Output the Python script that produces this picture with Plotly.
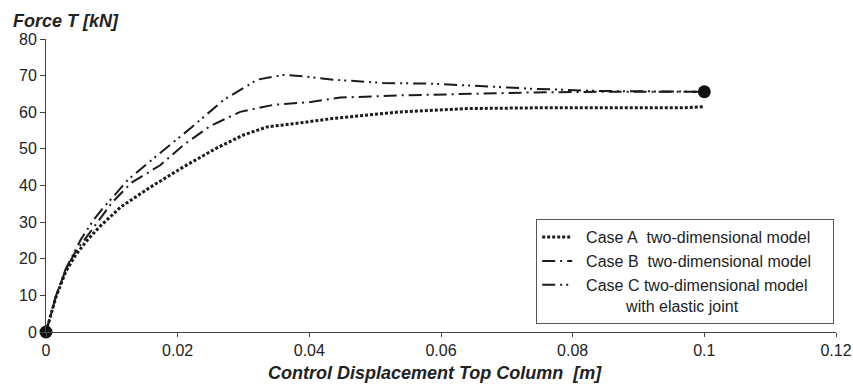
import plotly.graph_objects as go

# Case A (dotted)
a_x = [0, 0.0015, 0.003, 0.0045, 0.006, 0.008, 0.0114, 0.0159, 0.0209, 0.026, 0.030, 0.0336,
       0.0386, 0.0436, 0.0538, 0.0639, 0.074, 0.085, 0.0967, 0.1]
a_y = [0, 9.5, 16.5, 21, 24.5, 28.5, 34.2, 39.6, 45.1, 50.3, 53.8, 56.0,
       57.1, 58.3, 60.1, 61.0, 61.2, 61.2, 61.2, 61.5]

# Case B (long dash - dot)
b_x = [0, 0.0015, 0.003, 0.0045, 0.0064, 0.0083, 0.010, 0.013, 0.0174, 0.0209, 0.025, 0.0295,
       0.0345, 0.0402, 0.0447, 0.0538, 0.0639, 0.074, 0.085, 0.094, 0.1]
b_y = [0, 9.7, 17.0, 22.0, 26.5, 31.0, 35.3, 40.8, 45.6, 51.1, 56.3, 60.1,
       62.0, 62.8, 64.0, 64.6, 65.1, 65.4, 65.6, 65.7, 65.6]

# Case C (long dash - dot - dot)
c_x = [0, 0.0015, 0.003, 0.0043, 0.0053, 0.0073, 0.0085, 0.0105, 0.0124, 0.017, 0.022, 0.027,
       0.0321, 0.0361, 0.0397, 0.0436, 0.0512, 0.0588, 0.0664, 0.074, 0.084, 0.0967, 0.1]
c_y = [0, 9.8, 17.2, 22.0, 25.3, 30.8, 33.5, 37.5, 41.5, 48.4, 55.7, 63.4,
       68.9, 70.2, 69.7, 68.9, 68.0, 67.8, 67.0, 66.4, 65.8, 65.6, 65.6]

# End-point dots
dot_x = [0, 0.1]
dot_y = [0, 65.6]

x_ticks = [0, 0.02, 0.04, 0.06, 0.08, 0.1, 0.12]
y_ticks = [0, 10, 20, 30, 40, 50, 60, 70, 80]

nb = "\u00a0"
names = [
    nb * 2 + "Case A" + nb + nb + "two-dimensional model" + nb * 4,
    nb * 2 + "Case B" + nb + nb + "two-dimensional model",
    nb * 2 + "Case C two-dimensional model<br>" + nb * 11 + "with elastic joint",
]

ink = "#1b1b1b"
fam = "Liberation Sans, Arial, sans-serif"
fig = go.Figure()
fig.add_trace(go.Scatter(x=a_x, y=a_y, mode="lines", name=names[0],
                         line=dict(color=ink, width=3, dash="3px,2px"), cliponaxis=False))
fig.add_trace(go.Scatter(x=b_x, y=b_y, mode="lines", name=names[1],
                         line=dict(color=ink, width=2, dash="13px,5px,2px,5px"), cliponaxis=False))
fig.add_trace(go.Scatter(x=c_x, y=c_y, mode="lines", name=names[2],
                         line=dict(color=ink, width=2, dash="13px,5px,2px,4px,2px,5px"), cliponaxis=False))
fig.add_trace(go.Scatter(x=dot_x, y=dot_y, mode="markers", showlegend=False,
                         marker=dict(color="#111", size=13), cliponaxis=False))

axis_font = dict(family=fam, size=16, color="#222")
fig.update_layout(
    width=853, height=384,
    margin=dict(l=45.5, r=17, t=39, b=52, autoexpand=False),
    paper_bgcolor="white", plot_bgcolor="white",
    font=axis_font,
    showlegend=True,
    legend=dict(x=0.6205, y=0.385, xanchor="left", yanchor="top",
                bordercolor="#555", borderwidth=1, bgcolor="white",
                font=dict(family=fam, size=16, color="#222"),
                valign="top", tracegroupgap=0),
    xaxis=dict(range=[0, 0.12], tickvals=x_ticks, ticktext=[str(v) if v else "0" for v in x_ticks],
               showline=True, linecolor="#444", linewidth=1, automargin=False,
               ticks="outside", ticklen=4, tickcolor="#444", showgrid=False, zeroline=False,
               tickfont=axis_font),
    yaxis=dict(range=[0, 80], tickvals=y_ticks, automargin=False,
               showline=True, linecolor="#444", linewidth=1,
               ticks="outside", ticklen=5, tickcolor="#444", showgrid=False, zeroline=False,
               tickfont=axis_font),
    annotations=[
        dict(text="<b><i>Force T [kN]</i></b>", xref="paper", yref="paper",
             x=-0.044, y=1.061, xanchor="left", yanchor="middle", showarrow=False,
             font=dict(family=fam, size=18, color="#222")),
        dict(text="<b><i>Control Displacement Top Column" + nb + nb + "[m]</i></b>",
             xref="paper", yref="paper", x=0.493, y=-0.10, xanchor="center", yanchor="top",
             showarrow=False,
             font=dict(family=fam, size=18, color="#222")),
    ],
)

fig.write_html("out.html")
